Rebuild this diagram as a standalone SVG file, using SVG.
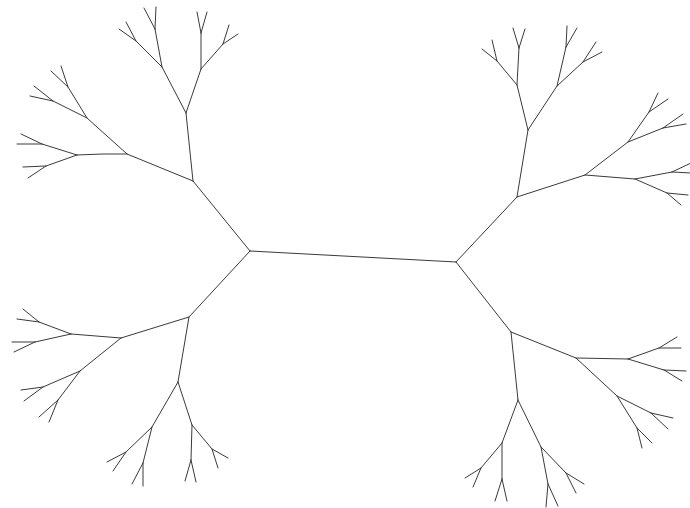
<svg xmlns="http://www.w3.org/2000/svg" width="690" height="508" viewBox="0 0 690 508">
<style>
.b{fill:none;stroke:#3a3a3a;stroke-width:1;stroke-linecap:round;stroke-linejoin:round}
</style>
<rect width="690" height="508" fill="#ffffff"/>
<g id="trunk"><path class="b" d="M250,251 L456,262"/></g>
<g id="top-left"><path class="b" d="M250,251 L193,181 M193,181 L186,113 M186,113 L162,67 M186,113 L201,69 M162,67 L136,41 M162,67 L155,29 M136,41 L119,29 M136,41 L126,22 M155,29 L144,8 M155,29 L156,7 M201,69 L201,33 M201,69 L223,44 M201,33 L197,12 M201,33 L207,12 M223,44 L229,25 M223,44 L238,34 M193,181 L127,154 M127,154 L87,118 M127,154 L103,154 L77,155 M87,118 L68,87 M87,118 L53,101 M68,87 L51,71 M68,87 L61,66 M53,101 L34,86 M53,101 L30,96 M77,155 L42,144 M77,155 L46,166 M42,144 L21,134 M42,144 L17,144 M46,166 L23,167 M46,166 L28,178"/></g>
<g id="top-right"><path class="b" d="M456,262 L517,197 M517,197 L528,130 M517,197 L585,175 M528,130 L517,85 M528,130 L557,86 M517,85 L497,61 M517,85 L519,48 M497,61 L482,49 M497,61 L492,40 M519,48 L513,28 M519,48 L525,29 M557,86 L566,47 M557,86 L583,62 M566,47 L567,26 M566,47 L577,28 M583,62 L596,42 M583,62 L602,52 M585,175 L628,142 M585,175 L635,179 M628,142 L649,112 M628,142 L663,128 M649,112 L658,93 M649,112 L668,99 M663,128 L683,114 M663,128 L686,124 M635,179 L672,172 M635,179 L667,193 M672,172 L691,163 M672,172 L691,173 M667,193 L688,195 M667,193 L681,205"/></g>
<g id="bottom-left"><path class="b" d="M250,251 L189,317 M189,317 L121,338 M189,317 L178,382 M121,338 L71,334 M121,338 L80,371 M71,334 L39,322 M71,334 L35,342 M39,322 L23,309 M39,322 L17,319 M35,342 L12,342 M35,342 L14,352 M80,371 L43,387 M80,371 L58,400 M43,387 L21,390 M43,387 L24,401 M58,400 L39,417 M58,400 L49,422 M178,382 L152,427 M178,382 L192,425 M152,427 L126,452 M152,427 L143,463 M126,452 L107,462 M126,452 L113,471 M143,463 L132,484 M143,463 L143,486 M192,425 L191,460 M192,425 L212,449 M191,460 L185,481 M191,460 L196,482 M212,449 L228,458 M212,449 L218,468"/></g>
<g id="bottom-right"><path class="b" d="M456,262 L511,332 M511,332 L576,358 M511,332 L518,400 M576,358 L628,359 M576,358 L617,396 M628,359 L659,348 M628,359 L664,370 M659,348 L677,337 M659,348 L681,348 M664,370 L686,371 M664,370 L682,381 M617,396 L651,413 M617,396 L637,428 M651,413 L673,418 M651,413 L668,429 M637,428 L652,443 M637,428 L642,448 M518,400 L502,443 M518,400 L541,447 M502,443 L481,468 M502,443 L502,479 M481,468 L465,478 M481,468 L473,487 M502,479 L495,501 M502,479 L507,501 M541,447 L566,473 M541,447 L548,484 M566,473 L584,484 M566,473 L576,493 M548,484 L546,507 M548,484 L558,506"/></g>
</svg>
